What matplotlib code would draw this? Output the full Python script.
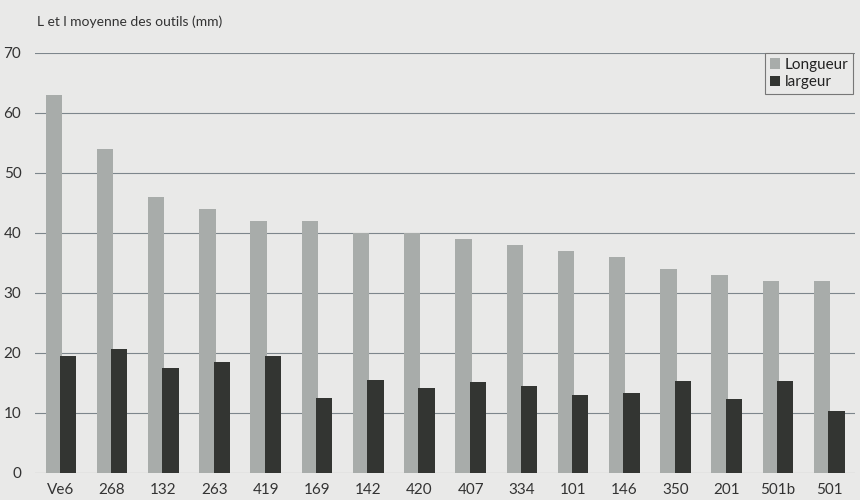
import numpy as np
import matplotlib.pyplot as plt

# outils: longueur et largeur moyennes (mm)
sites = ['Ve6', '268', '132', '263', '419', '169', '142', '420',
         '407', '334', '101', '146', '350', '201', '501b', '501']
longueur = [63, 54, 46, 44, 42, 42, 40, 40, 39, 38, 37, 36, 34, 33, 32, 32]
largeur = [19.5, 20.6, 17.5, 18.5, 19.5, 12.5, 15.5, 14.1,
           15.1, 14.5, 13.0, 13.4, 15.4, 12.4, 15.4, 10.4]
yticks = [0, 10, 20, 30, 40, 50, 60, 70]

bg = '#e9e9e8'
c_long = '#a8acaa'
c_larg = '#333532'

plt.rcParams['font.family'] = ['Lato', 'DejaVu Sans']

fig = plt.figure(figsize=(8.6, 5.0), dpi=100, facecolor=bg)
ax = fig.add_axes([0.041, 0.054, 0.953, 0.840], facecolor=bg)

x = np.arange(len(sites))
w = 0.32
ax.bar(x - 0.14, longueur, width=w, color=c_long, label='Longueur', zorder=2)
ax.bar(x + 0.14, largeur, width=w, color=c_larg, label='largeur', zorder=3)

ax.set_xlim(-0.5, len(sites) - 0.5)
ax.set_ylim(0, 70)
ax.set_yticks(yticks)
ax.set_xticks(x)
ax.set_xticklabels(sites)
ax.tick_params(axis='both', length=0, labelsize=11, colors='#333333')
ax.tick_params(axis='y', pad=10)
ax.tick_params(axis='x', pad=7)
ax.yaxis.grid(True, color='#7d868c', linewidth=0.8, zorder=1)
ax.set_axisbelow(True)
for s in ax.spines.values():
    s.set_visible(False)

fig.text(0.043, 0.957, 'L et l moyenne des outils (mm)', fontsize=10,
         color='#333333', ha='left', va='center')

leg = ax.legend(loc='upper right', bbox_to_anchor=(0.998, 1.0), borderaxespad=0,
                fontsize=11, frameon=True, fancybox=False, handlelength=0.7,
                handleheight=0.7, handletextpad=0.3, labelspacing=0.25,
                borderpad=0.3, labelcolor='#222222')
leg.get_frame().set_edgecolor('#777777')
leg.get_frame().set_facecolor(bg)
leg.get_frame().set_linewidth(0.8)
leg.get_frame().set_alpha(1)

fig.savefig('out.png', dpi=100, facecolor=bg)
